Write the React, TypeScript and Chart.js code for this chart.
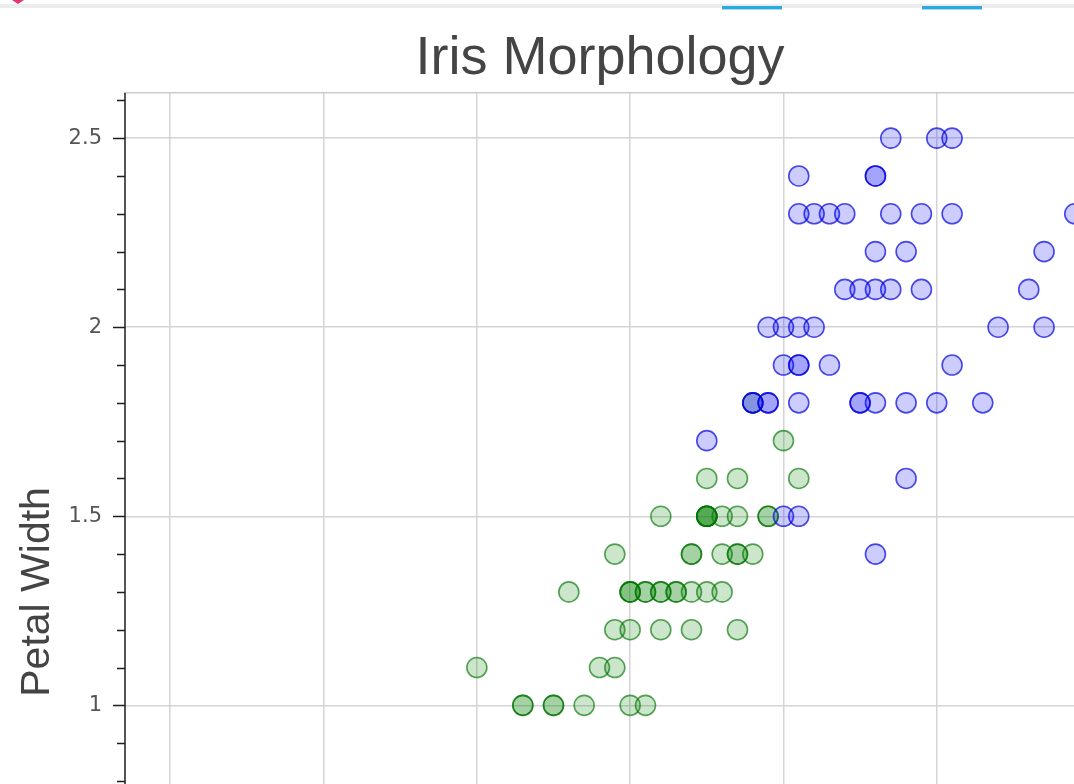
import React, { useEffect, useRef } from 'react';
import { Chart, registerables } from 'chart.js';

Chart.register(...registerables);

// ---------- data (Iris: petal length / petal width) ----------
const chartTitle = 'Iris Morphology';
const xAxisTitle = 'Petal Length';
const yAxisTitle = 'Petal Width';

const setosaLength = [1.4, 1.4, 1.3, 1.5, 1.4, 1.7, 1.4, 1.5, 1.4, 1.5, 1.5, 1.6, 1.4, 1.1, 1.2, 1.5, 1.3, 1.4, 1.7, 1.5, 1.7, 1.5, 1.0, 1.7, 1.9, 1.6, 1.6, 1.5, 1.4, 1.6, 1.6, 1.5, 1.5, 1.4, 1.5, 1.2, 1.3, 1.4, 1.3, 1.5, 1.3, 1.3, 1.3, 1.6, 1.9, 1.4, 1.6, 1.4, 1.5, 1.4];
const setosaWidth = [0.2, 0.2, 0.2, 0.2, 0.2, 0.4, 0.3, 0.2, 0.2, 0.1, 0.2, 0.2, 0.1, 0.1, 0.2, 0.4, 0.4, 0.3, 0.3, 0.3, 0.2, 0.4, 0.2, 0.5, 0.2, 0.2, 0.4, 0.2, 0.2, 0.2, 0.2, 0.4, 0.1, 0.2, 0.2, 0.2, 0.2, 0.1, 0.2, 0.2, 0.3, 0.3, 0.2, 0.6, 0.4, 0.3, 0.2, 0.2, 0.2, 0.2];

const versicolorLength = [4.7, 4.5, 4.9, 4.0, 4.6, 4.5, 4.7, 3.3, 4.6, 3.9, 3.5, 4.2, 4.0, 4.7, 3.6, 4.4, 4.5, 4.1, 4.5, 3.9, 4.8, 4.0, 4.9, 4.7, 4.3, 4.4, 4.8, 5.0, 4.5, 3.5, 3.8, 3.7, 3.9, 5.1, 4.5, 4.5, 4.7, 4.4, 4.1, 4.0, 4.4, 4.6, 4.0, 3.3, 4.2, 4.2, 4.2, 4.3, 3.0, 4.1];
const versicolorWidth = [1.4, 1.5, 1.5, 1.3, 1.5, 1.3, 1.6, 1.0, 1.3, 1.4, 1.0, 1.5, 1.0, 1.4, 1.3, 1.4, 1.5, 1.0, 1.5, 1.1, 1.8, 1.3, 1.5, 1.2, 1.3, 1.4, 1.4, 1.7, 1.5, 1.0, 1.1, 1.0, 1.2, 1.6, 1.5, 1.6, 1.5, 1.3, 1.3, 1.3, 1.2, 1.4, 1.2, 1.0, 1.3, 1.2, 1.3, 1.3, 1.1, 1.3];

const virginicaLength = [6.0, 5.1, 5.9, 5.6, 5.8, 6.6, 4.5, 6.3, 5.8, 6.1, 5.1, 5.3, 5.5, 5.0, 5.1, 5.3, 5.5, 6.7, 6.9, 5.0, 5.7, 4.9, 6.7, 4.9, 5.7, 6.0, 4.8, 4.9, 5.6, 5.8, 6.1, 6.4, 5.6, 5.1, 5.6, 6.1, 5.6, 5.5, 4.8, 5.4, 5.6, 5.1, 5.1, 5.9, 5.7, 5.2, 5.0, 5.2, 5.4, 5.1];
const virginicaWidth = [2.5, 1.9, 2.1, 1.8, 2.2, 2.1, 1.7, 1.8, 1.8, 2.5, 2.0, 1.9, 2.1, 2.0, 2.4, 2.3, 1.8, 2.2, 2.3, 1.5, 2.3, 2.0, 2.0, 1.8, 2.1, 1.8, 1.8, 1.8, 2.1, 1.6, 1.9, 2.0, 2.2, 1.5, 1.4, 2.3, 2.4, 1.8, 1.8, 2.1, 2.4, 2.3, 1.9, 2.3, 2.5, 2.3, 1.9, 2.0, 2.3, 1.8];

const xRange = [0.705, 7.717];
const yRange = [-0.02, 2.62];
const xTickValues = [1, 2, 3, 4, 5, 6, 7];
const xTickLabels = ['1', '2', '3', '4', '5', '6', '7'];
const yTickValues = [0, 0.5, 1, 1.5, 2, 2.5];
const yTickLabels = ['0', '0.5', '1', '1.5', '2', '2.5'];

const toPoints = (xs: number[], ys: number[]) => xs.map((x, i) => ({ x, y: ys[i] }));

const axisPlugin = {
  id: 'bokehAxes',
  afterDraw(chart: any) {
    const { ctx, chartArea: a, scales } = chart;
    const x = scales.x;
    const y = scales.y;
    ctx.save();
    // plot frame (top / right)
    ctx.strokeStyle = '#cccccc';
    ctx.lineWidth = 1.5;
    ctx.beginPath();
    ctx.moveTo(a.left, a.top);
    ctx.lineTo(a.right, a.top);
    ctx.lineTo(a.right, a.bottom);
    ctx.stroke();
    // axis lines
    ctx.strokeStyle = '#1e1e1e';
    ctx.lineWidth = 1.5;
    ctx.beginPath();
    ctx.moveTo(a.left, a.top);
    ctx.lineTo(a.left, a.bottom);
    ctx.moveTo(a.left, a.bottom);
    ctx.lineTo(a.right, a.bottom);
    ctx.stroke();
    // y ticks (major 0.5, minor 0.1)
    ctx.beginPath();
    for (let i = Math.ceil(yRange[0] * 10); i <= Math.floor(yRange[1] * 10); i++) {
      const py = Math.round(y.getPixelForValue(i / 10)) + 0.5;
      const len = i % 5 === 0 ? 12 : 8;
      ctx.moveTo(a.left - len, py);
      ctx.lineTo(a.left, py);
    }
    // x ticks (major 1, minor 0.2)
    for (let i = Math.ceil(xRange[0] * 5); i <= Math.floor(xRange[1] * 5); i++) {
      const px = Math.round(x.getPixelForValue(i / 5)) + 0.5;
      const len = i % 5 === 0 ? 12 : 8;
      ctx.moveTo(px, a.bottom);
      ctx.lineTo(px, a.bottom + len);
    }
    ctx.stroke();
    ctx.restore();
  },
};

export default function App() {
  const canvasRef = useRef<HTMLCanvasElement | null>(null);

  useEffect(() => {
    if (!canvasRef.current) return;
    const chart = new Chart(canvasRef.current, {
      type: 'scatter',
      data: {
        datasets: [
          {
            label: 'virginica',
            data: toPoints(virginicaLength, virginicaWidth),
            backgroundColor: 'rgba(0,0,255,0.2)',
            borderColor: 'rgba(0,0,220,0.7)',
            borderWidth: 1.6,
            pointRadius: 10,
            pointHoverRadius: 10,
          },
          {
            label: 'versicolor',
            data: toPoints(versicolorLength, versicolorWidth),
            backgroundColor: 'rgba(0,128,0,0.2)',
            borderColor: 'rgba(0,115,0,0.65)',
            borderWidth: 1.6,
            pointRadius: 10,
            pointHoverRadius: 10,
          },
          {
            label: 'setosa',
            data: toPoints(setosaLength, setosaWidth),
            backgroundColor: 'rgba(255,0,0,0.2)',
            borderColor: 'rgba(220,0,0,0.7)',
            borderWidth: 1.6,
            pointRadius: 10,
            pointHoverRadius: 10,
          },
        ],
      },
      options: {
        responsive: false,
        animation: false,
        events: [],
        layout: { padding: 0, autoPadding: false },
        plugins: {
          legend: { display: false },
          tooltip: { enabled: false },
          title: {
            display: true,
            text: chartTitle,
            color: '#444444',
            font: { family: '"Liberation Sans", Arial, sans-serif', size: 54, weight: 'normal' },
            padding: { top: 27, bottom: 1 },
          },
        },
        scales: {
          x: {
            type: 'linear',
            min: xRange[0],
            max: xRange[1],
            afterBuildTicks: (scale: any) => {
              scale.ticks = xTickValues.map((v) => ({ value: v }));
            },
            afterFit: (scale: any) => {
              scale.height = 69;
              scale.paddingLeft = 0;
              scale.paddingRight = 0;
            },
            ticks: {
              color: '#555555',
              padding: 20,
              font: { family: '"DejaVu Sans", sans-serif', size: 21 },
              callback: (v: any) => {
                const i = xTickValues.indexOf(Number(v));
                return i >= 0 ? xTickLabels[i] : '';
              },
            },
            grid: { color: '#d4d4d4', lineWidth: 1.5, drawTicks: false },
            border: { display: false },
            title: {
              display: true,
              text: xAxisTitle,
              color: '#444444',
              font: { family: '"Liberation Sans", Arial, sans-serif', size: 41 },
            },
          },
          y: {
            type: 'linear',
            min: yRange[0],
            max: yRange[1],
            afterBuildTicks: (scale: any) => {
              scale.ticks = yTickValues.map((v) => ({ value: v }));
            },
            afterFit: (scale: any) => {
              scale.width = 125;
              scale.paddingTop = 0;
              scale.paddingBottom = 0;
            },
            ticks: {
              color: '#555555',
              padding: 23,
              font: { family: '"DejaVu Sans", sans-serif', size: 21 },
              callback: (v: any) => {
                const i = yTickValues.indexOf(Number(v));
                return i >= 0 ? yTickLabels[i] : '';
              },
            },
            grid: { color: '#d4d4d4', lineWidth: 1.5, drawTicks: false },
            border: { display: false },
            title: {
              display: true,
              text: yAxisTitle,
              color: '#444444',
              padding: { top: 13, bottom: 0 },
              font: { family: '"Liberation Sans", Arial, sans-serif', size: 41 },
            },
          },
        },
      },
      plugins: [axisPlugin],
    } as any);
    return () => chart.destroy();
  }, []);

  return (
    <div
      style={{
        position: 'absolute',
        left: 0,
        top: 0,
        width: 1074,
        height: 784,
        overflow: 'hidden',
        background: '#ffffff',
      }}
    >
      <canvas ref={canvasRef} width={1200} height={1160} style={{ display: 'block' }} />
      <div style={{ position: 'absolute', left: 0, top: 4, width: 1074, height: 4, background: '#ececec' }} />
      <div style={{ position: 'absolute', left: 722, top: 6, width: 60, height: 3, background: '#29abe2' }} />
      <div style={{ position: 'absolute', left: 722, top: 9, width: 60, height: 1, background: '#a8dcf2' }} />
      <div style={{ position: 'absolute', left: 922, top: 6, width: 60, height: 3, background: '#29abe2' }} />
      <div style={{ position: 'absolute', left: 922, top: 9, width: 60, height: 1, background: '#a8dcf2' }} />
      <div
        style={{
          position: 'absolute',
          left: 12,
          top: 0,
          width: 0,
          height: 0,
          borderLeft: '6px solid transparent',
          borderRight: '6px solid transparent',
          borderTop: '4px solid #e8336d',
        }}
      />
    </div>
  );
}
